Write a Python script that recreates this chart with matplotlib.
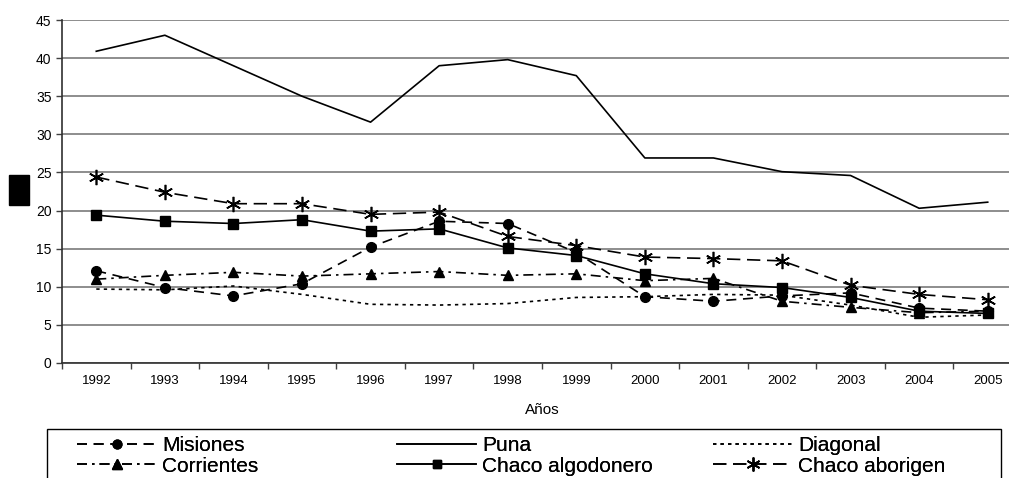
import matplotlib
matplotlib.use("Agg")
import matplotlib.pyplot as plt
from matplotlib.patches import Rectangle
import numpy as np

plt.rcParams['font.family'] = ['Liberation Sans', 'DejaVu Sans']

# data
years = ['1992', '1993', '1994', '1995', '1996', '1997', '1998',
         '1999', '2000', '2001', '2002', '2003', '2004', '2005']
misiones = [12.1, 9.9, 8.8, 10.4, 15.2, 18.6, 18.3, 14.5, 8.7, 8.1, 8.8, 9.2, 7.2, 6.8]
puna = [40.9, 43.0, 39.0, 35.0, 31.6, 39.0, 39.8, 37.7, 26.9, 26.9, 25.1, 24.6, 20.3, 21.1]
diagonal = [9.7, 9.6, 10.1, 9.0, 7.7, 7.6, 7.8, 8.6, 8.7, 9.0, 8.9, 7.6, 6.0, 6.3]
corrientes = [11.0, 11.5, 11.9, 11.4, 11.7, 12.0, 11.5, 11.7, 10.8, 11.1, 8.1, 7.3, 6.6, 6.8]
chaco_algodonero = [19.4, 18.6, 18.3, 18.8, 17.3, 17.6, 15.1, 14.1, 11.7, 10.4, 9.9, 8.6, 6.8, 6.5]
chaco_aborigen = [24.4, 22.4, 20.9, 20.9, 19.5, 19.8, 16.6, 15.4, 13.9, 13.7, 13.4, 10.2, 9.0, 8.3]

x = np.arange(len(years))
W, H = 1009, 478

fig = plt.figure(figsize=(W / 100, H / 100), dpi=100)
# axes runs slightly past the right edge, as in the cropped reference
ax = fig.add_axes([62 / W, 1 - 363 / H, 960 / W, 343 / H])

lw = 1.2
l_mis, = ax.plot(x, misiones, color='black', lw=lw, dashes=(6, 4), marker='o', ms=7)
l_cor, = ax.plot(x, corrientes, color='black', lw=lw, dashes=(6, 3, 1.5, 3),
                 marker='^', ms=7.5)
l_pun, = ax.plot(x, puna, color='black', lw=lw)
l_alg, = ax.plot(x, chaco_algodonero, color='black', lw=lw, marker='s', ms=7)
l_dia, = ax.plot(x, diagonal, color='black', lw=lw, dashes=(2, 2.5))
l_abo, = ax.plot(x, chaco_aborigen, color='black', lw=lw, dashes=(8, 4),
                 marker=(6, 2, 0), ms=11, mew=1.2)

ax.set_xlim(-0.5, len(years) - 0.5)
ax.set_ylim(0, 45)
ax.set_yticks(np.arange(0, 46, 5))
ax.set_xticks(x)
ax.set_xticklabels(years)
ax.set_xticks(np.arange(-0.5, len(years), 1), minor=True)
ax.tick_params(axis='x', which='major', length=0, pad=9, labelsize=9.5)
ax.tick_params(axis='x', which='minor', length=4, width=1, color='#404040')
ax.tick_params(axis='y', length=4, width=1, color='#404040', labelsize=10)
ax.grid(axis='y', color='#858585', lw=1.3)
ax.set_axisbelow(True)
for s in ['top', 'right']:
    ax.spines[s].set_visible(False)
for s in ['left', 'bottom']:
    ax.spines[s].set_color('#303030')
    ax.spines[s].set_linewidth(1.2)

ax.set_xlabel('Años', fontsize=11, labelpad=11)

# black box where the y label was
fig.patches.append(Rectangle((9 / W, 1 - 205 / H), 20 / W, 30 / H,
                             transform=fig.transFigure, color='black'))

# legend frame, running off the bottom of the picture
fig.patches.append(Rectangle((47 / W, -0.05), 954 / W, 1 - 429 / H + 0.05,
                             transform=fig.transFigure, fill=False,
                             edgecolor='black', lw=1))

leg_groups = [
    ([l_mis, l_cor], ['Misiones', 'Corrientes'], 77),
    ([l_pun, l_alg], ['Puna', 'Chaco algodonero'], 397),
    ([l_dia, l_abo], ['Diagonal', 'Chaco aborigen'], 713),
]
for hs, labs, xs in leg_groups:
    lg = fig.legend(hs, labs, loc='upper left', bbox_to_anchor=(xs / W, 1 - 436 / H),
                    frameon=False, fontsize=15, labelspacing=0.08, handlelength=3.8,
                    handletextpad=0.3, borderpad=0, borderaxespad=0,
                    markerscale=0.9)
    fig.add_artist(lg)

fig.savefig('out.png', dpi=100)
